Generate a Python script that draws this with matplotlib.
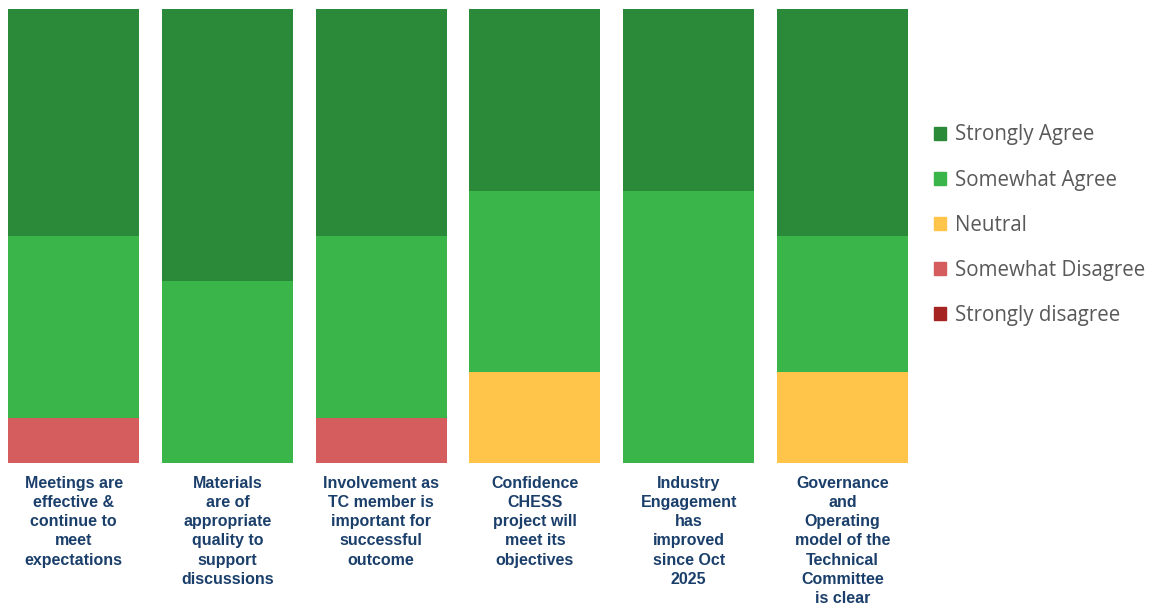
import matplotlib.pyplot as plt
import numpy as np
from matplotlib.patches import Patch

categories = [
    "Meetings are\neffective &\ncontinue to\nmeet\nexpectations",
    "Materials\nare of\nappropriate\nquality to\nsupport\ndiscussions",
    "Involvement as\nTC member is\nimportant for\nsuccessful\noutcome",
    "Confidence\nCHESS\nproject will\nmeet its\nobjectives",
    "Industry\nEngagement\nhas\nimproved\nsince Oct\n2025",
    "Governance\nand\nOperating\nmodel of the\nTechnical\nCommittee\nis clear",
]

# percentages, stacked from the bottom up
strongly_disagree = [0, 0, 0, 0, 0, 0]
somewhat_disagree = [10, 0, 10, 0, 0, 0]
neutral = [0, 0, 0, 20, 0, 20]
somewhat_agree = [40, 40, 40, 40, 60, 30]
strongly_agree = [50, 60, 50, 40, 40, 50]

series = [
    ("Strongly disagree", strongly_disagree, "#A52422"),
    ("Somewhat Disagree", somewhat_disagree, "#D65D5D"),
    ("Neutral", neutral, "#FFC54A"),
    ("Somewhat Agree", somewhat_agree, "#3AB54A"),
    ("Strongly Agree", strongly_agree, "#2B8A3A"),
]

fig = plt.figure(figsize=(11.49, 6.05), dpi=100)
ax = fig.add_axes([0, 0.2347, 0.8, 0.7504])

x = np.arange(len(categories))
bottom = np.zeros(len(categories))
for name, vals, col in series:
    vals = np.array(vals, dtype=float)
    ax.bar(x, vals, 0.853, bottom=bottom, color=col, label=name)
    bottom += vals

ax.set_xlim(-0.48, 5.5)
ax.set_ylim(0, 100)
ax.set_yticks([])
ax.set_xticks(x)
ax.set_xticklabels(categories, fontsize=11.5, fontweight="bold", color="#1B3F6B",
                   family="Liberation Sans", linespacing=1.36)
ax.tick_params(axis="x", length=0, pad=9)
for s in ax.spines.values():
    s.set_visible(False)

handles = [Patch(color=c, label=n) for n, v, c in series[::-1]]
fig.legend(handles=handles, loc="center left", bbox_to_anchor=(0.7965, 0.628),
           frameon=False, labelcolor="#595959",
           prop={"family": "Open Sans", "size": 14.8},
           handlelength=0.62, handleheight=0.62, handletextpad=0.4,
           labelspacing=1.17)

fig.savefig("out.png", dpi=100)
